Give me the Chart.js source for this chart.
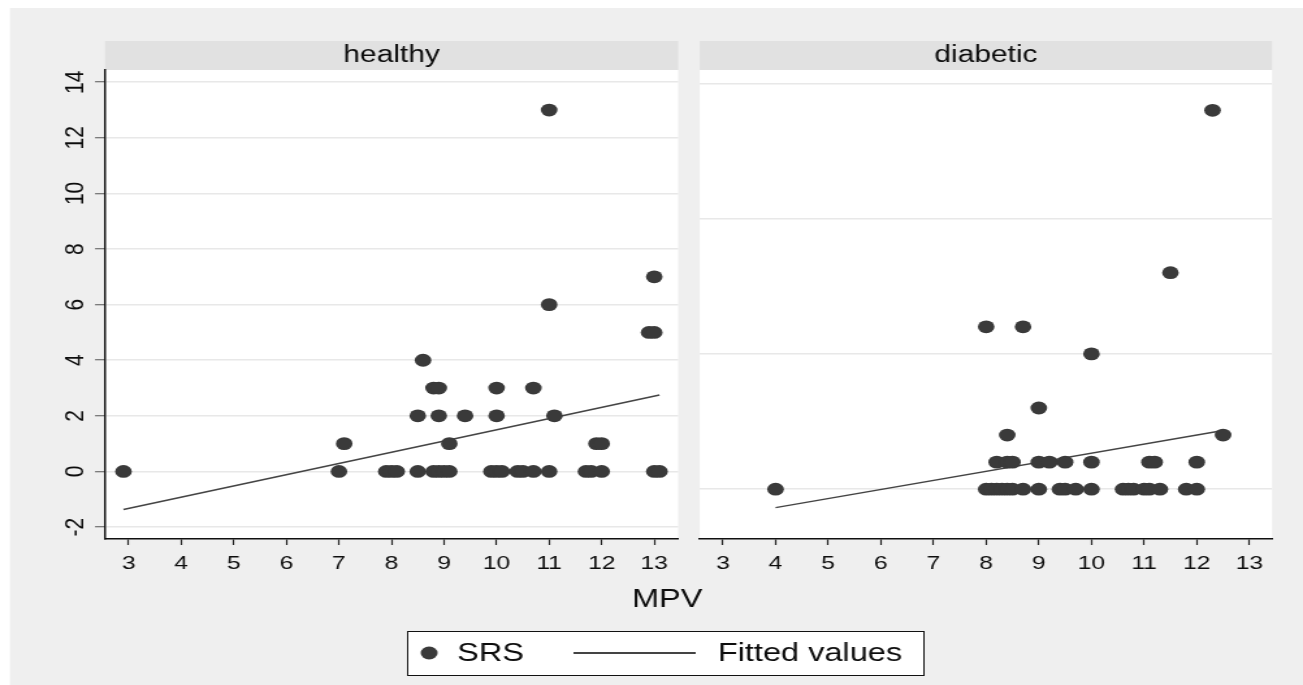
<!DOCTYPE html>
<html>
<head>
<meta charset="utf-8">
<script src="https://cdn.jsdelivr.net/npm/chart.js@4.4.1/dist/chart.umd.min.js"></script>
<style>
html, body { margin: 0; padding: 0; background: #ffffff; }
#wrap { position: relative; width: 1303px; height: 685px; }
#wrap canvas { position: absolute; left: 0; top: 0; }
</style>
</head>
<body>
<div id="wrap">
  <canvas id="healthy" width="1002" height="685" style="width:1303px;height:685px"></canvas>
  <canvas id="diabetic" width="1002" height="685" style="width:1303px;height:685px"></canvas>
</div>
<script>
// data
const healthyMpv = [2.9, 7.0, 7.1, 7.9, 8.0, 8.1, 8.5, 8.5, 8.6, 8.8, 8.9, 8.8, 8.9, 9.0, 9.1, 8.9, 9.1, 9.4, 10.0, 10.0, 9.9, 10.0, 10.1, 10.4, 10.5, 10.7, 10.7, 11.0, 11.0, 11.0, 11.1, 11.7, 11.8, 12.0, 11.9, 12.0, 12.9, 13.0, 13.0, 13.1, 13.0]
const healthySrs = [0, 0, 1, 0, 0, 0, 0, 2, 4, 3, 3, 0, 0, 0, 0, 2, 1, 2, 3, 2, 0, 0, 0, 0, 0, 0, 3, 0, 6, 13, 2, 0, 0, 0, 1, 1, 5, 5, 0, 0, 7]
const healthyFitMpv = [2.9, 13.1]
const healthyFitSrs = [-1.37, 2.75]

const diabeticMpv = [4.0, 8.0, 8.1, 8.2, 8.3, 8.4, 8.5, 8.7, 9.0, 9.4, 9.5, 9.7, 10.0, 10.6, 10.7, 10.8, 11.0, 11.1, 11.3, 11.8, 12.0,
  8.2, 8.4, 8.5, 9.0, 9.2, 9.5, 10.0, 11.1, 11.2, 12.0,
  8.4, 12.5, 9.0, 10.0, 8.0, 8.7, 11.5, 12.3]
const diabeticSrs = [0, 0, 0, 0, 0, 0, 0, 0, 0, 0, 0, 0, 0, 0, 0, 0, 0, 0, 0, 0, 0,
  1, 1, 1, 1, 1, 1, 1, 1, 1, 1,
  2, 2, 3, 5, 6, 6, 8, 14]
const diabeticFitMpv = [4.0, 12.5]
const diabeticFitSrs = [-0.68, 2.17]

const xTicks = [3, 4, 5, 6, 7, 8, 9, 10, 11, 12, 13]
const yTicksHealthy = [-2, 0, 2, 4, 6, 8, 10, 12, 14]
const yTicksDiabetic = [0, 5, 10, 15]

const FONT = "'Liberation Sans', Arial, sans-serif"
const INK = '#0d0d0d'
const DOT = '#3a3a3a'

const toPoints = (xs, ys) => xs.map((x, i) => ({x: x, y: ys[i]}))

// header strip, white plot area, and the extra bits of the figure
const panelPlugin = {
  id: 'panel',
  beforeDraw: (chart, args, opts) => {
    const ctx = chart.ctx
    const a = chart.chartArea
    ctx.save()
    if (opts.outer) {
      ctx.fillStyle = '#ffffff'
      ctx.fillRect(0, 0, chart.width, chart.height)
      ctx.fillStyle = '#efefef'
      ctx.fillRect(7.7, 8, chart.width, chart.height)
    }
    ctx.fillStyle = '#ffffff'
    ctx.fillRect(a.left, a.top, a.right - a.left, a.bottom - a.top)
    ctx.fillStyle = '#e1e1e1'
    ctx.fillRect(a.left, 41, a.right - a.left, a.top - 41)
    ctx.fillStyle = INK
    ctx.font = `23px ${FONT}`
    ctx.textAlign = 'center'
    ctx.textBaseline = 'middle'
    ctx.fillText(opts.label, (a.left + a.right) / 2, 56)
    ctx.restore()
  },
  afterDraw: (chart, args, opts) => {
    if (!opts.outer) return
    const ctx = chart.ctx
    ctx.save()
    ctx.fillStyle = INK
    ctx.textBaseline = 'middle'
    ctx.textAlign = 'center'
    ctx.font = `25px ${FONT}`
    ctx.fillText('MPV', 513, 600)
    // legend box
    ctx.fillStyle = '#ffffff'
    ctx.fillRect(313, 631, 397, 44)
    ctx.strokeStyle = '#111111'
    ctx.lineWidth = 1
    ctx.strokeRect(313.5, 631.5, 397, 44)
    ctx.fillStyle = DOT
    ctx.beginPath()
    ctx.arc(330, 653, 6.5, 0, Math.PI * 2)
    ctx.fill()
    ctx.strokeStyle = '#444444'
    ctx.lineWidth = 2
    ctx.beginPath()
    ctx.moveTo(441, 653)
    ctx.lineTo(535, 653)
    ctx.stroke()
    ctx.fillStyle = INK
    ctx.textAlign = 'left'
    ctx.fillText('SRS', 351.5, 654)
    ctx.fillText('Fitted values', 552, 654)
    ctx.restore()
  }
}

const makePanel = (canvasId, label, outer, pts, fit, xRange, yRange, yTicks, padding, showY) => {
  const ctx = document.getElementById(canvasId).getContext('2d')
  return new Chart(ctx, {
    type: 'scatter',
    data: {
      datasets: [{
        label: 'SRS',
        data: pts,
        pointRadius: 6.4,
        pointHoverRadius: 6.4,
        pointBackgroundColor: DOT,
        pointBorderWidth: 0
      }, {
        type: 'line',
        label: 'Fitted values',
        data: fit,
        borderColor: '#444444',
        borderWidth: 1.4,
        pointRadius: 0,
        fill: false
      }]
    },
    options: {
      responsive: false,
      devicePixelRatio: 1,
      animation: false,
      layout: { autoPadding: false, padding: padding },
      plugins: {
        legend: { display: false },
        tooltip: { enabled: false },
        panel: { label: label, outer: outer }
      },
      scales: {
        x: {
          type: 'linear',
          min: xRange[0],
          max: xRange[1],
          afterBuildTicks: axis => { axis.ticks = xTicks.map(v => ({value: v})) },
          afterFit: axis => { axis.height = 40 },
          grid: { drawOnChartArea: false, drawTicks: true, tickLength: 6, tickColor: '#222222', tickWidth: 1.2 },
          border: { display: true, color: '#111111', width: 1.5 },
          ticks: { padding: 7, color: INK, maxRotation: 0, font: { family: FONT, size: 19 } }
        },
        y: {
          type: 'linear',
          min: yRange[0],
          max: yRange[1],
          afterBuildTicks: axis => { axis.ticks = yTicks.map(v => ({value: v})) },
          afterFit: axis => { axis.width = showY ? 80.8 : 0 },
          grid: { color: '#e8e8e8', lineWidth: 1.5, drawTicks: showY, tickLength: 7.7, tickColor: '#555555', tickWidth: 1 },
          border: { display: showY, color: '#111111', width: 1.5 },
          ticks: { display: showY, minRotation: 90, maxRotation: 90, crossAlign: 'center', padding: 3, color: INK, font: { family: FONT, size: 21 } }
        }
      }
    },
    plugins: [panelPlugin]
  })
}

makePanel('healthy', 'healthy', true,
  toPoints(healthyMpv, healthySrs), toPoints(healthyFitMpv, healthyFitSrs),
  [2.55, 13.455], [-2.43, 14.44], yTicksHealthy,
  { left: 0, top: 70, right: 480.5, bottom: 106 }, true)

makePanel('diabetic', 'diabetic', false,
  toPoints(diabeticMpv, diabeticSrs), toPoints(diabeticFitMpv, diabeticFitSrs),
  [2.56, 13.43], [-1.84, 15.49], yTicksDiabetic,
  { left: 538.1, top: 70, right: 23.8, bottom: 106 }, false)
</script>
</body>
</html>
